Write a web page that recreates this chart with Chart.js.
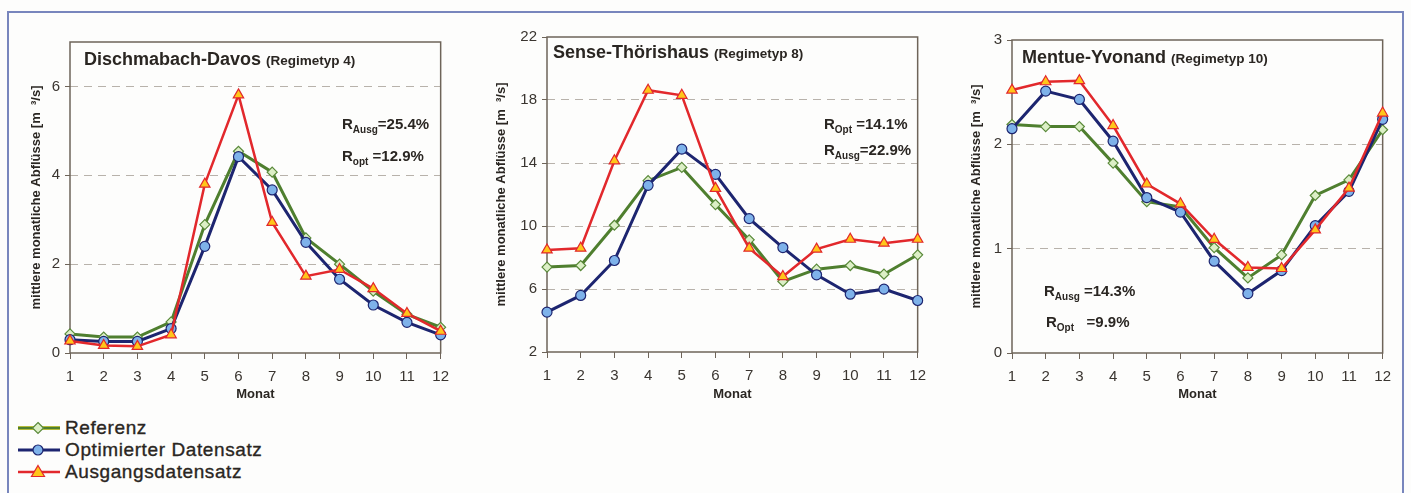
<!DOCTYPE html>
<html>
<head>
<meta charset="utf-8">
<script src="https://cdn.jsdelivr.net/npm/chart.js@4.4.1/dist/chart.umd.min.js"></script>
<style>
body { margin:0; background:#fdfdfc; font-family:"Liberation Sans", Arial, sans-serif; }
#frame { position:absolute; left:7px; top:11px; width:1393px; height:500px; border:2px solid #7886bd; border-bottom:none; }
canvas { position:absolute; }
.ttl { position:absolute; font-weight:bold; font-size:18px; line-height:18px; color:#2a2622; white-space:nowrap; }
.ttl span { font-size:13.5px; }
.ann { position:absolute; font-weight:bold; font-size:15px; line-height:15px; color:#2a2622; white-space:nowrap; }
.ann sub { font-size:10px; line-height:0; vertical-align:-4px; }
.leg { position:absolute; left:16px; height:22px; white-space:nowrap; }
.leg svg { position:absolute; left:0; top:0; }
.leg span { position:absolute; left:49px; top:0; font-size:19px; line-height:22px; letter-spacing:0.6px; color:#2a2622; -webkit-text-stroke:0.35px #2a2622; }
</style>
</head>
<body>
<div id="frame"></div>

<canvas id="c1" width="436" height="385" style="left:22px;top:20px"></canvas>
<canvas id="c2" width="445" height="385" style="left:490px;top:20px"></canvas>
<canvas id="c3" width="440" height="385" style="left:960px;top:20px"></canvas>

<div class="ttl" style="left:84px;top:50px">Dischmabach-Davos <span>(Regimetyp 4)</span></div>
<div class="ttl" style="left:553px;top:43px">Sense-Thörishaus <span>(Regimetyp 8)</span></div>
<div class="ttl" style="left:1022px;top:48px">Mentue-Yvonand <span>(Regimetyp 10)</span></div>

<div class="ann" style="left:342px;top:116px">R<sub>Ausg</sub>=25.4%</div>
<div class="ann" style="left:342px;top:148px">R<sub>opt</sub> =12.9%</div>
<div class="ann" style="left:824px;top:116px">R<sub>Opt</sub> =14.1%</div>
<div class="ann" style="left:824px;top:142px">R<sub>Ausg</sub>=22.9%</div>
<div class="ann" style="left:1044px;top:283px">R<sub>Ausg</sub> =14.3%</div>
<div class="ann" style="left:1046px;top:314px">R<sub>Opt</sub> &nbsp; =9.9%</div>

<div class="leg" style="top:417px">
  <svg width="46" height="22"><line x1="2" y1="11" x2="44" y2="11" stroke="#d8d040" stroke-width="4"/><line x1="2" y1="11" x2="44" y2="11" stroke="#4f7f2f" stroke-width="2.5"/><polygon points="22,5.5 27.5,11 22,16.5 16.5,11" fill="#dcefc6" stroke="#5a8a3a" stroke-width="1.2"/></svg>
  <span>Referenz</span>
</div>
<div class="leg" style="top:439px">
  <svg width="46" height="22"><line x1="2" y1="11" x2="44" y2="11" stroke="#1d2570" stroke-width="3"/><circle cx="22" cy="11" r="5" fill="#7eb2ea" stroke="#1d2570" stroke-width="1.2"/></svg>
  <span>Optimierter Datensatz</span>
</div>
<div class="leg" style="top:461px">
  <svg width="46" height="22"><line x1="2" y1="11" x2="44" y2="11" stroke="#e2282c" stroke-width="2.5"/><polygon points="22,4.5 28.5,15.5 15.5,15.5" fill="#ffc61a" stroke="#e2282c" stroke-width="1.2"/></svg>
  <span>Ausgangsdatensatz</span>
</div>

<script>
let months = [1, 2, 3, 4, 5, 6, 7, 8, 9, 10, 11, 12];

// Dischmabach-Davos
let dischRef  = [0.43, 0.36, 0.36, 0.70, 2.89, 4.54, 4.07, 2.59, 2.00, 1.39, 0.87, 0.58];
let dischOpt  = [0.30, 0.26, 0.26, 0.55, 2.40, 4.42, 3.67, 2.49, 1.66, 1.08, 0.69, 0.41];
let dischAusg = [0.27, 0.17, 0.15, 0.41, 3.80, 5.81, 2.94, 1.73, 1.88, 1.45, 0.89, 0.49];
let dischTicks = [0, 2, 4, 6];

// Sense-Thörishaus
let senseRef  = [7.39, 7.49, 10.05, 12.88, 13.72, 11.36, 9.12, 6.48, 7.26, 7.49, 6.94, 8.17];
let senseOpt  = [4.53, 5.59, 7.81, 12.58, 14.88, 13.28, 10.47, 8.63, 6.90, 5.67, 5.99, 5.27];
let senseAusg = [8.48, 8.59, 14.14, 18.62, 18.30, 12.39, 8.59, 6.79, 8.53, 9.16, 8.91, 9.16];
let senseTicks = [2, 6, 10, 14, 18, 22];

// Mentue-Yvonand
let mentueRef  = [2.19, 2.17, 2.17, 1.82, 1.45, 1.40, 1.01, 0.72, 0.94, 1.51, 1.66, 2.14];
let mentueOpt  = [2.15, 2.51, 2.43, 2.03, 1.49, 1.35, 0.88, 0.57, 0.79, 1.22, 1.55, 2.24];
let mentueAusg = [2.52, 2.60, 2.61, 2.18, 1.62, 1.43, 1.09, 0.82, 0.81, 1.18, 1.58, 2.30];
let mentueTicks = [0, 1, 2, 3];

//=======================================================//
const frameBox = {
    id: 'frameBox',
    beforeDatasetsDraw(chart) {
        let a = chart.chartArea;
        let ctx = chart.ctx;
        ctx.save();
        ctx.strokeStyle = '#6e6459';
        ctx.lineWidth = 1.5;
        ctx.setLineDash([]);
        ctx.strokeRect(a.left, a.top, a.right - a.left, a.bottom - a.top);
        ctx.restore();
    }
};

function showPanel(id, refData, optData, ausgData, yTicks, yMax, opt) {
    let ctx = document.getElementById(id).getContext('2d');
    let yMin = yTicks[0];

    let data = {
        labels: months,
        datasets: [
            {
                label: 'Referenz',
                data: refData,
                borderColor: '#4f7f2f',
                borderWidth: 3,
                pointStyle: 'rectRot',
                pointRadius: 5,
                pointBackgroundColor: '#dcefc6',
                pointBorderColor: '#5a8a3a',
                pointBorderWidth: 1.2,
                order: 2
            },
            {
                label: 'Optimierter Datensatz',
                data: optData,
                borderColor: '#1d2570',
                borderWidth: 3,
                pointStyle: 'circle',
                pointRadius: 5,
                pointBackgroundColor: '#7eb2ea',
                pointBorderColor: '#1d2570',
                pointBorderWidth: 1.2,
                order: 1
            },
            {
                label: 'Ausgangsdatensatz',
                data: ausgData,
                borderColor: '#e2282c',
                borderWidth: 2.5,
                pointStyle: 'triangle',
                pointRadius: 6,
                pointBackgroundColor: '#ffc61a',
                pointBorderColor: '#e2282c',
                pointBorderWidth: 1.2,
                order: 0
            }]
    };

    return new Chart(ctx, {
        type: 'line',
        data: data,
        plugins: [frameBox],
        options: {
            responsive: false,
            animation: false,
            layout: { padding: { top: opt.padTop, right: opt.padRight, left: 0, bottom: 0 } },
            scales: {
                x: {
                    offset: false,
                    afterFit: function (s) { s.height = opt.xHeight; },
                    ticks: {
                        color: '#3a3530',
                        font: { size: 15, family: 'Liberation Sans' },
                        padding: 9,
                        maxRotation: 0
                    },
                    grid: {
                        drawOnChartArea: false,
                        tickLength: 6,
                        tickColor: '#6e6459'
                    },
                    border: { display: false },
                    title: {
                        display: true,
                        text: 'Monat',
                        color: '#2a2622',
                        font: { size: 13, weight: 'bold', family: 'Liberation Sans' },
                        padding: { top: 0, bottom: 3 }
                    }
                },
                y: {
                    min: yMin,
                    max: yMax,
                    afterFit: function (s) { s.width = opt.yWidth; },
                    afterBuildTicks: function (s) { s.ticks = yTicks.map(v => ({ value: v })); },
                    ticks: {
                        color: '#3a3530',
                        font: { size: 15, family: 'Liberation Sans' },
                        padding: 5
                    },
                    grid: {
                        color: function (c) {
                            if (c.tick && (c.tick.value === yMin || c.tick.value === yMax)) return 'rgba(0,0,0,0)';
                            return '#b8b2ab';
                        },
                        lineWidth: 1,
                        tickLength: 5,
                        tickColor: '#6e6459'
                    },
                    border: { display: false, dash: [8, 6] },
                    title: {
                        display: true,
                        text: 'mittlere monatliche Abflüsse [m  ³/s]',
                        color: '#2a2622',
                        font: { size: 13, weight: 'bold', family: 'Liberation Sans' },
                        padding: { top: opt.titlePad, bottom: 0 }
                    }
                }
            },
            plugins: {
                legend: { display: false },
                tooltip: { enabled: false }
            }
        }
    });
}

showPanel('c1', dischRef, dischOpt, dischAusg, dischTicks, 7,
    { padTop: 22, padRight: 12, xHeight: 52, yWidth: 48, titlePad: 7 });
showPanel('c2', senseRef, senseOpt, senseAusg, senseTicks, 22,
    { padTop: 17, padRight: 14, xHeight: 53, yWidth: 57, titlePad: 4 });
showPanel('c3', mentueRef, mentueOpt, mentueAusg, mentueTicks, 3,
    { padTop: 20, padRight: 14, xHeight: 52, yWidth: 52, titlePad: 9 });
</script>
</body>
</html>
